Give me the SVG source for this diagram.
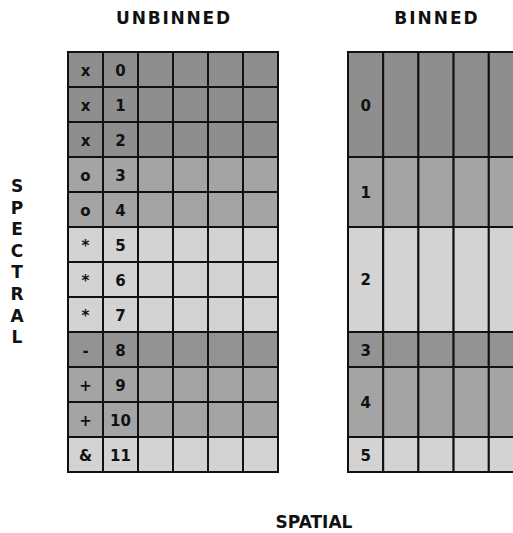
<svg xmlns="http://www.w3.org/2000/svg" width="513" height="533" viewBox="0 0 513 533">
  <style>
    .c { stroke: #111; stroke-width: 2; }
    .d { fill: #8e8e8e; }
    .m { fill: #a4a4a4; }
    .l { fill: #d3d3d3; }
    .e { fill: #939393; }
    .t { font-family: "DejaVu Sans", Verdana, sans-serif; font-weight: bold; font-size: 15px; fill: #111; text-anchor: middle; }
    .h { font-family: "DejaVu Sans", Verdana, sans-serif; font-weight: bold; font-size: 17px; fill: #111; text-anchor: middle; }
  </style>
  <rect width="513" height="533" fill="#fff"/>
  <defs>
    <g id="row">
      <rect class="c" x="68" y="0" width="35" height="35"/>
      <rect class="c" x="103" y="0" width="35" height="35"/>
      <rect class="c" x="138" y="0" width="35" height="35"/>
      <rect class="c" x="173" y="0" width="35" height="35"/>
      <rect class="c" x="208" y="0" width="35" height="35"/>
      <rect class="c" x="243" y="0" width="35" height="35"/>
    </g>
  </defs>

  <g id="title-unbinned"><text class="h" x="174" y="24" letter-spacing="1.8">UNBINNED</text></g>
  <g id="title-binned"><text class="h" x="437" y="24" letter-spacing="2">BINNED</text></g>
  <g id="label-spatial"><text class="h" x="314" y="528">SPATIAL</text></g>
  <g id="label-spectral">
    <text class="h" x="17" y="192">S</text>
    <text class="h" x="17" y="213.6">P</text>
    <text class="h" x="17" y="235.2">E</text>
    <text class="h" x="17" y="256.8">C</text>
    <text class="h" x="17" y="278.4">T</text>
    <text class="h" x="17" y="300">R</text>
    <text class="h" x="17" y="321.6">A</text>
    <text class="h" x="17" y="343.2">L</text>
  </g>

  <g id="unbinned">
    <g id="u0" class="d"><use href="#row" y="52"/><text class="t" x="85.5" y="76">x</text><text class="t" x="120.5" y="76">0</text></g>
    <g id="u1" class="d"><use href="#row" y="87"/><text class="t" x="85.5" y="111">x</text><text class="t" x="120.5" y="111">1</text></g>
    <g id="u2" class="d"><use href="#row" y="122"/><text class="t" x="85.5" y="146">x</text><text class="t" x="120.5" y="146">2</text></g>
    <g id="u3" class="m"><use href="#row" y="157"/><text class="t" x="85.5" y="181">o</text><text class="t" x="120.5" y="181">3</text></g>
    <g id="u4" class="m"><use href="#row" y="192"/><text class="t" x="85.5" y="216">o</text><text class="t" x="120.5" y="216">4</text></g>
    <g id="u5" class="l"><use href="#row" y="227"/><text class="t" x="85.5" y="251">*</text><text class="t" x="120.5" y="251">5</text></g>
    <g id="u6" class="l"><use href="#row" y="262"/><text class="t" x="85.5" y="286">*</text><text class="t" x="120.5" y="286">6</text></g>
    <g id="u7" class="l"><use href="#row" y="297"/><text class="t" x="85.5" y="321">*</text><text class="t" x="120.5" y="321">7</text></g>
    <g id="u8" class="e"><use href="#row" y="332"/><text class="t" x="85.5" y="356">-</text><text class="t" x="120.5" y="356">8</text></g>
    <g id="u9" class="m"><use href="#row" y="367"/><text class="t" x="85.5" y="391">+</text><text class="t" x="120.5" y="391">9</text></g>
    <g id="u10" class="m"><use href="#row" y="402"/><text class="t" x="85.5" y="426">+</text><text class="t" x="120.5" y="426">10</text></g>
    <g id="u11" class="l"><use href="#row" y="437"/><text class="t" x="85.5" y="461">&amp;</text><text class="t" x="120.5" y="461">11</text></g>
  </g>

  <g id="binned">
    <g id="b0" class="d">
      <rect class="c" x="348" y="52" width="35.2" height="105"/><rect class="c" x="383.2" y="52" width="35.2" height="105"/><rect class="c" x="418.4" y="52" width="35.2" height="105"/><rect class="c" x="453.6" y="52" width="35.2" height="105"/><rect class="c" x="488.8" y="52" width="35.2" height="105"/>
      <text class="t" x="365.6" y="111">0</text>
    </g>
    <g id="b1" class="m">
      <rect class="c" x="348" y="157" width="35.2" height="70"/><rect class="c" x="383.2" y="157" width="35.2" height="70"/><rect class="c" x="418.4" y="157" width="35.2" height="70"/><rect class="c" x="453.6" y="157" width="35.2" height="70"/><rect class="c" x="488.8" y="157" width="35.2" height="70"/>
      <text class="t" x="365.6" y="198">1</text>
    </g>
    <g id="b2" class="l">
      <rect class="c" x="348" y="227" width="35.2" height="105"/><rect class="c" x="383.2" y="227" width="35.2" height="105"/><rect class="c" x="418.4" y="227" width="35.2" height="105"/><rect class="c" x="453.6" y="227" width="35.2" height="105"/><rect class="c" x="488.8" y="227" width="35.2" height="105"/>
      <text class="t" x="365.6" y="285">2</text>
    </g>
    <g id="b3" class="e">
      <rect class="c" x="348" y="332" width="35.2" height="35"/><rect class="c" x="383.2" y="332" width="35.2" height="35"/><rect class="c" x="418.4" y="332" width="35.2" height="35"/><rect class="c" x="453.6" y="332" width="35.2" height="35"/><rect class="c" x="488.8" y="332" width="35.2" height="35"/>
      <text class="t" x="365.6" y="356">3</text>
    </g>
    <g id="b4" class="m">
      <rect class="c" x="348" y="367" width="35.2" height="70"/><rect class="c" x="383.2" y="367" width="35.2" height="70"/><rect class="c" x="418.4" y="367" width="35.2" height="70"/><rect class="c" x="453.6" y="367" width="35.2" height="70"/><rect class="c" x="488.8" y="367" width="35.2" height="70"/>
      <text class="t" x="365.6" y="408">4</text>
    </g>
    <g id="b5" class="l">
      <rect class="c" x="348" y="437" width="35.2" height="35"/><rect class="c" x="383.2" y="437" width="35.2" height="35"/><rect class="c" x="418.4" y="437" width="35.2" height="35"/><rect class="c" x="453.6" y="437" width="35.2" height="35"/><rect class="c" x="488.8" y="437" width="35.2" height="35"/>
      <text class="t" x="365.6" y="461">5</text>
    </g>
  </g>
  <g id="connectors"/>
</svg>
